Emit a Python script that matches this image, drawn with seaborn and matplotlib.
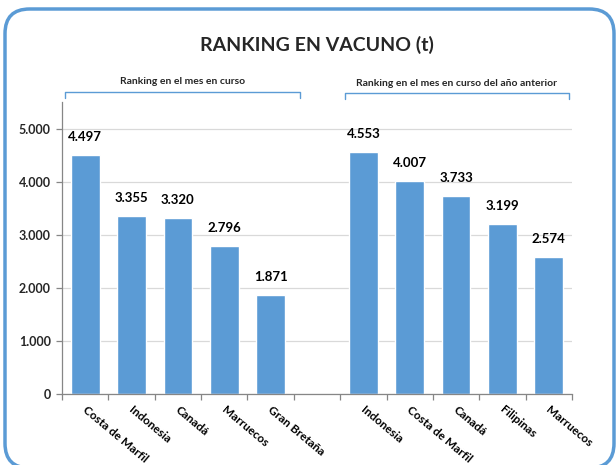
import matplotlib
matplotlib.use("Agg")
import matplotlib.pyplot as plt
from matplotlib.patches import FancyBboxPatch
from matplotlib.ticker import FuncFormatter, FixedLocator
import pandas as pd
import seaborn as sns

# ── DATA
titulo = "RANKING EN VACUNO (t)"
grupo_mes = "Ranking en el mes en curso"
grupo_ant = "Ranking en el mes en curso del año anterior"
paises_mes = ["Costa de Marfil", "Indonesia", "Canadá", "Marruecos", "Gran Bretaña"]
valores_mes = [4497, 3355, 3320, 2796, 1871]
paises_ant = ["Indonesia", "Costa de Marfil", "Canadá", "Filipinas", "Marruecos"]
valores_ant = [4553, 4007, 3733, 3199, 2574]
y_ticks = [0, 1000, 2000, 3000, 4000, 5000]

AZUL = "#5B9BD5"
GRIS = "#868686"

sns.set_theme(style="white")
plt.rcParams["font.family"] = ["Lato", "DejaVu Sans"]

def miles(v):
    return f"{v:,.0f}".replace(",", ".")

# 5 bars, one empty slot, 5 bars
n1 = len(paises_mes)
slots = list(range(n1)) + [n1 + 1 + i for i in range(len(paises_ant))]
df = pd.DataFrame({"slot": slots,
                   "pais": paises_mes + paises_ant,
                   "valor": valores_mes + valores_ant})
n_slots = n1 + 1 + len(paises_ant)

fig = plt.figure(figsize=(6.16, 4.65), dpi=100)
ax = fig.add_axes([62/616, 1-394/465, 510/616, 292/465])

sns.barplot(data=df, x="slot", y="valor", order=list(range(n_slots)),
            color=AZUL, saturation=1, width=0.62, ax=ax)

ax.set_xlim(-0.5, n_slots - 0.5)
ax.set_ylim(0, 5500)
ax.yaxis.set_major_locator(FixedLocator(y_ticks))
ax.yaxis.set_major_formatter(FuncFormatter(lambda v, p: miles(v)))
ax.grid(axis="y", color="#D9D9D9", linewidth=0.9)
ax.set_axisbelow(True)
for s in ["top", "right"]:
    ax.spines[s].set_visible(False)
for s in ["left", "bottom"]:
    ax.spines[s].set_color(GRIS)
    ax.spines[s].set_linewidth(0.9)

# ticks at slot boundaries, labels at bar centres
ax.set_xticks([i - 0.5 for i in range(n_slots + 1)])
ax.set_xticklabels([])
ax.tick_params(axis="x", length=4, color=GRIS, width=0.9, direction="out", bottom=True)
ax.tick_params(axis="y", length=4, color=GRIS, width=0.9, direction="out", left=True,
               labelsize=9, pad=4)
for t in ax.get_yticklabels():
    t.set_fontweight("bold")
ax.set_xlabel("")
ax.set_ylabel("")

for s, p, v in zip(df["slot"], df["pais"], df["valor"]):
    ax.annotate(p, xy=(s, 0), xycoords=("data", "axes fraction"),
                xytext=(-1, -10), textcoords="offset points",
                rotation=-40, rotation_mode="anchor", ha="left", va="center",
                fontsize=8.5, fontweight="bold", color="black")
    ax.annotate(miles(v), xy=(s, v), xytext=(0, 13),
                textcoords="offset points", ha="center", va="center",
                fontsize=9.5, fontweight="bold", color="black")

# title and group brackets
fig.text(317/616, 1-45/465, titulo, ha="center", va="center",
         fontsize=14, fontweight="bold")

def corchete(x0, x1, y, texto, ty):
    yf = 1 - y/465
    ydn = 1 - (y + 6)/465
    fig.add_artist(plt.Line2D([x0/616, x0/616, x1/616, x1/616], [ydn, yf, yf, ydn],
                              color=AZUL, linewidth=1.0))
    fig.text((x0 + x1)/2/616, 1 - ty/465, texto, ha="center", va="center",
             fontsize=7.5, fontweight="bold")

corchete(65, 300, 92, grupo_mes, 81)
corchete(345, 569, 93, grupo_ant, 84)

# rounded border, bottom runs just past the image edge
fig.add_artist(FancyBboxPatch((5/616, -3/465), 609/616, 459/465,
                              boxstyle="round,pad=0,rounding_size=0.04",
                              transform=fig.transFigure, fill=False,
                              edgecolor=AZUL, linewidth=2.5, mutation_aspect=616/465))

fig.savefig("out.png", dpi=100)
